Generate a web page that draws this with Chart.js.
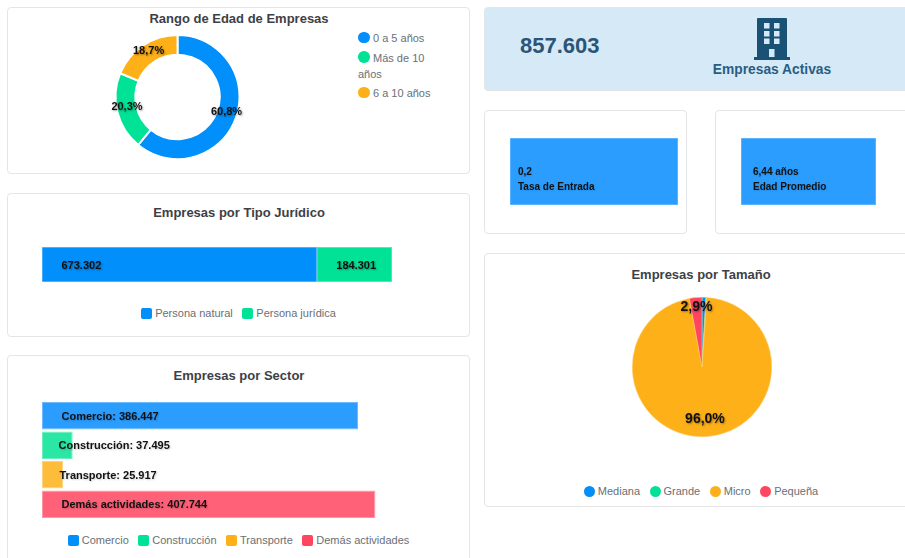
<!DOCTYPE html>
<html lang="es">
<head>
<meta charset="utf-8">
<title>Empresas</title>
<script src="https://cdn.jsdelivr.net/npm/chart.js@4"></script>
<style>
  html, body { margin: 0; padding: 0; background: #fff; }
  body { width: 905px; height: 558px; overflow: hidden; position: relative; font-family: "Liberation Sans", Arial, sans-serif; }
  .card { position: absolute; box-sizing: border-box; background: #fff; border: 1px solid #e4e5e7; border-radius: 4px; }
  .title { position: absolute; font-size: 13px; font-weight: bold; color: #3d4145; line-height: 16px; text-align: center; transform: translateX(-50%); white-space: nowrap; }
  canvas { position: absolute; display: block; }
  .legend { position: absolute; display: flex; justify-content: center; gap: 9.5px; font-size: 11px; color: #6a6f75; line-height: 14px; white-space: nowrap; }
  .legend span.item { display: flex; align-items: center; gap: 3px; }
  .mark { display: inline-block; width: 11px; height: 11px; border-radius: 2px; }
  .mark.round { border-radius: 50%; }
  #edadLegend { position: absolute; left: 358px; top: 30px; width: 76px; font-size: 11px; color: #6a6f75; line-height: 16px; }
  #edadLegend div { margin-bottom: 3.5px; }
  #edadLegend .mark { width: 11.5px; height: 11.5px; margin-right: 3.5px; vertical-align: -1px; }
  #banner { background: #d6e9f7; }
  #total { position: absolute; left: 520px; top: 33px; font-size: 22px; line-height: 26px; font-weight: bold; color: #2a5578; }
  #bannerLabel { position: absolute; left: 772px; top: 62px; transform: translateX(-50%); font-size: 13.8px; line-height: 16px; font-weight: bold; color: #2a5d82; white-space: nowrap; }
  #icon { position: absolute; left: 754px; top: 18px; }
</style>
</head>
<body>
<div class="card" style="left:7px;top:7px;width:463px;height:167px"></div>
<div class="card" style="left:7px;top:193px;width:463px;height:144px"></div>
<div class="card" style="left:7px;top:355px;width:463px;height:230px"></div>
<div class="card" id="banner" style="left:484px;top:7px;width:440px;height:84px"></div>
<div class="card" style="left:484px;top:110px;width:203px;height:124px"></div>
<div class="card" style="left:715px;top:110px;width:220px;height:124px"></div>
<div class="card" style="left:484px;top:253px;width:440px;height:254px"></div>

<div class="title" style="left:239px;top:10.5px">Rango de Edad de Empresas</div>
<div class="title" style="left:239px;top:205px">Empresas por Tipo Jurídico</div>
<div class="title" style="left:239px;top:368px">Empresas por Sector</div>
<div class="title" style="left:701px;top:266.5px">Empresas por Tamaño</div>

<canvas id="edad" style="left:96px;top:34px" width="163" height="126"></canvas>
<div id="edadLegend"></div>

<canvas id="juridico" style="left:42px;top:247px" width="350" height="35"></canvas>
<div class="legend" id="juridicoLegend" style="left:7px;top:306px;width:463px"></div>

<canvas id="sector" style="left:42px;top:401px" width="350" height="118"></canvas>
<div class="legend" id="sectorLegend" style="left:7px;top:533px;width:463px"></div>

<div id="total"></div>
<svg id="icon" width="36" height="42" viewBox="0 0 36 42">
  <path fill="#1a5276" d="M3 1q0-1 1-1h28q1 0 1 1v38h3v3H0v-3h3z"/>
  <g fill="#d6e9f7">
    <rect x="10" y="5" width="5.5" height="5.5"/><rect x="20" y="5" width="5.5" height="5.5"/>
    <rect x="10" y="13" width="5.5" height="5.5"/><rect x="20" y="13" width="5.5" height="5.5"/>
    <rect x="10" y="20.5" width="5.5" height="5.5"/><rect x="20" y="20.5" width="5.5" height="5.5"/>
    <rect x="15" y="31" width="5.5" height="8"/>
  </g>
</svg>
<div id="bannerLabel">Empresas Activas</div>

<canvas id="tasa" style="left:510px;top:138px" width="168" height="67"></canvas>
<canvas id="promedio" style="left:741px;top:138px" width="135" height="67"></canvas>

<canvas id="tamano" style="left:632px;top:297px" width="140" height="140"></canvas>
<div class="legend" id="tamanoLegend" style="left:484px;top:484px;width:434px"></div>

<script>
// Colors
const BLUE = '#008FFB', GREEN = '#00E396', ORANGE = '#FEB019', RED = '#FF4560';

// Rango de edad
const edadLabels = ['0 a 5 años', 'Más de 10 años', '6 a 10 años'];
const edadValues = [60.8, 20.3, 18.7];
const edadColors = [BLUE, GREEN, ORANGE];

// Tipo juridico
const juridicoLabels = ['Persona natural', 'Persona jurídica'];
const juridicoValues = [673302, 184301];
const juridicoColors = [BLUE, GREEN];
const juridicoEdges = ['#66bcfd', '#66eec0'];

// Sector
const sectorLabels = ['Comercio', 'Construcción', 'Transporte', 'Demás actividades'];
const sectorValues = [386447, 37495, 25917, 407744];
const sectorColors = [BLUE, GREEN, ORANGE, RED];
const sectorFill = ['#2A9DFF', '#2AE7A5', '#FEBC3B', '#FF6178'];
const sectorEdges = ['#6dbcff', '#6deebf', '#fed27d', '#ff95a5'];
const sectorNudge = [19.5, 16.5, 17.5, 19.5];

// Tamano
const tamanoLabels = ['Mediana', 'Grande', 'Micro', 'Pequeña'];
const tamanoValues = [0.9, 0.2, 96.0, 2.9];
const tamanoColors = [BLUE, GREEN, ORANGE, RED];
const tamanoLabelRadius = [0, 0, 52, 60];

// Indicadores
const totalEmpresas = 857603;
const tasaEntrada = 0.2;
const edadPromedio = 6.44;

const FONT = '"Liberation Sans", Arial, sans-serif';
const miles = v => v.toLocaleString('es-ES');
const pct = v => v.toFixed(1).replace('.', ',') + '%';

document.getElementById('total').textContent = miles(totalEmpresas);

function drawLabel(ctx, text, x, y, font, align, shadow) {
    ctx.save();
    ctx.font = font + ' ' + FONT;
    ctx.textAlign = align || 'center';
    ctx.textBaseline = 'middle';
    ctx.fillStyle = '#111';
    ctx.shadowColor = 'rgba(0,0,0,' + (shadow === undefined ? 0.35 : shadow) + ')';
    ctx.shadowBlur = 2;
    ctx.shadowOffsetX = 1;
    ctx.shadowOffsetY = 1;
    ctx.fillText(text, x, y);
    ctx.restore();
}

function addLegend(id, labels, colors, round) {
    const box = document.getElementById(id);
    labels.forEach((label, i) => {
        const item = document.createElement('span');
        item.className = 'item';
        item.innerHTML = '<i class="mark' + (round ? ' round' : '') + '" style="background:' + colors[i] + '"></i>' + label;
        box.appendChild(item);
    });
}

addLegend('juridicoLegend', juridicoLabels, juridicoColors, false);
addLegend('sectorLegend', sectorLabels, sectorColors, false);
addLegend('tamanoLegend', tamanoLabels, tamanoColors, true);

edadLabels.forEach((label, i) => {
    const row = document.createElement('div');
    row.innerHTML = '<i class="mark round" style="background:' + edadColors[i] + '"></i>' + label;
    document.getElementById('edadLegend').appendChild(row);
});

const baseOptions = {
    responsive: false,
    animation: false,
    plugins: { legend: { display: false }, tooltip: { enabled: false } }
};

function barOptions(max) {
    return {
        ...baseOptions,
        indexAxis: 'y',
        scales: {
            x: { display: false, stacked: true, min: 0, max: max },
            y: { display: false, stacked: true }
        }
    };
}

// Rango de Edad de Empresas
new Chart(document.getElementById('edad'), {
    type: 'doughnut',
    data: {
        labels: edadLabels,
        datasets: [{ data: edadValues, backgroundColor: edadColors, borderColor: '#fff', borderWidth: 2 }]
    },
    options: { ...baseOptions, cutout: '68%' },
    plugins: [{
        id: 'edadLabels',
        afterDatasetsDraw(chart) {
            chart.getDatasetMeta(0).data.forEach((arc, i) => {
                const p = arc.getCenterPoint();
                drawLabel(chart.ctx, pct(edadValues[i]), p.x, p.y - 3, 'bold 11px');
            });
        }
    }]
});

// Empresas por Tipo Juridico
new Chart(document.getElementById('juridico'), {
    type: 'bar',
    data: {
        labels: ['Empresas'],
        datasets: juridicoLabels.map((label, i) => ({
            label: label,
            data: [juridicoValues[i]],
            backgroundColor: juridicoColors[i],
            borderColor: juridicoEdges[i],
            borderWidth: 1,
            borderSkipped: false,
            barPercentage: 1,
            categoryPercentage: 1
        }))
    },
    options: barOptions(totalEmpresas),
    plugins: [{
        id: 'juridicoLabels',
        afterDatasetsDraw(chart) {
            juridicoValues.forEach((v, i) => {
                const bar = chart.getDatasetMeta(i).data[0];
                drawLabel(chart.ctx, miles(v), bar.base + 19.5, bar.y + 1, 'bold 11px', 'left');
            });
        }
    }]
});

// Empresas por Sector
new Chart(document.getElementById('sector'), {
    type: 'bar',
    data: {
        labels: sectorLabels,
        datasets: [{
            data: sectorValues,
            backgroundColor: sectorFill,
            borderColor: sectorEdges,
            borderWidth: 1,
            borderSkipped: false,
            barPercentage: 0.93,
            categoryPercentage: 1
        }]
    },
    options: barOptions(428000),
    plugins: [{
        id: 'sectorLabels',
        afterDatasetsDraw(chart) {
            chart.getDatasetMeta(0).data.forEach((bar, i) => {
                const text = sectorLabels[i] + ': ' + miles(sectorValues[i]);
                drawLabel(chart.ctx, text, bar.base + sectorNudge[i], bar.y + 1, 'bold 11px', 'left', 0.2);
            });
        }
    }]
});

// Tasa de Entrada / Edad Promedio
function indicador(id, value, first, second) {
    new Chart(document.getElementById(id), {
        type: 'bar',
        data: {
            labels: [second],
            datasets: [{
                data: [value],
                backgroundColor: '#2A9DFF',
                borderColor: '#6dbcff',
                borderWidth: 1,
                borderSkipped: false,
                barPercentage: 1,
                categoryPercentage: 1
            }]
        },
        options: barOptions(value),
        plugins: [{
            id: id + 'Labels',
            afterDatasetsDraw(chart) {
                const bar = chart.getDatasetMeta(0).data[0];
                const left = bar.base + (id === 'tasa' ? 8 : 12);
                drawLabel(chart.ctx, first, left, bar.y + 0.5, 'bold 10px', 'left', 0.1);
                drawLabel(chart.ctx, second, left, bar.y + 15.5, 'bold 10px', 'left', 0.1);
            }
        }]
    });
}
indicador('tasa', tasaEntrada, String(tasaEntrada).replace('.', ','), 'Tasa de Entrada');
indicador('promedio', edadPromedio, String(edadPromedio).replace('.', ',') + ' años', 'Edad Promedio');

// Empresas por Tamano
new Chart(document.getElementById('tamano'), {
    type: 'pie',
    data: {
        labels: tamanoLabels,
        datasets: [{ data: tamanoValues, backgroundColor: tamanoColors, borderColor: '#fed27d', borderWidth: 0.5 }]
    },
    options: baseOptions,
    plugins: [{
        id: 'tamanoLabels',
        afterDatasetsDraw(chart) {
            chart.getDatasetMeta(0).data.forEach((arc, i) => {
                if (tamanoValues[i] < 2) return;
                const mid = (arc.startAngle + arc.endAngle) / 2;
                const x = arc.x + Math.cos(mid) * tamanoLabelRadius[i];
                const y = arc.y + Math.sin(mid) * tamanoLabelRadius[i];
                drawLabel(chart.ctx, pct(tamanoValues[i]), x, y, 'bold 14px');
            });
        }
    }]
});
</script>
</body>
</html>
